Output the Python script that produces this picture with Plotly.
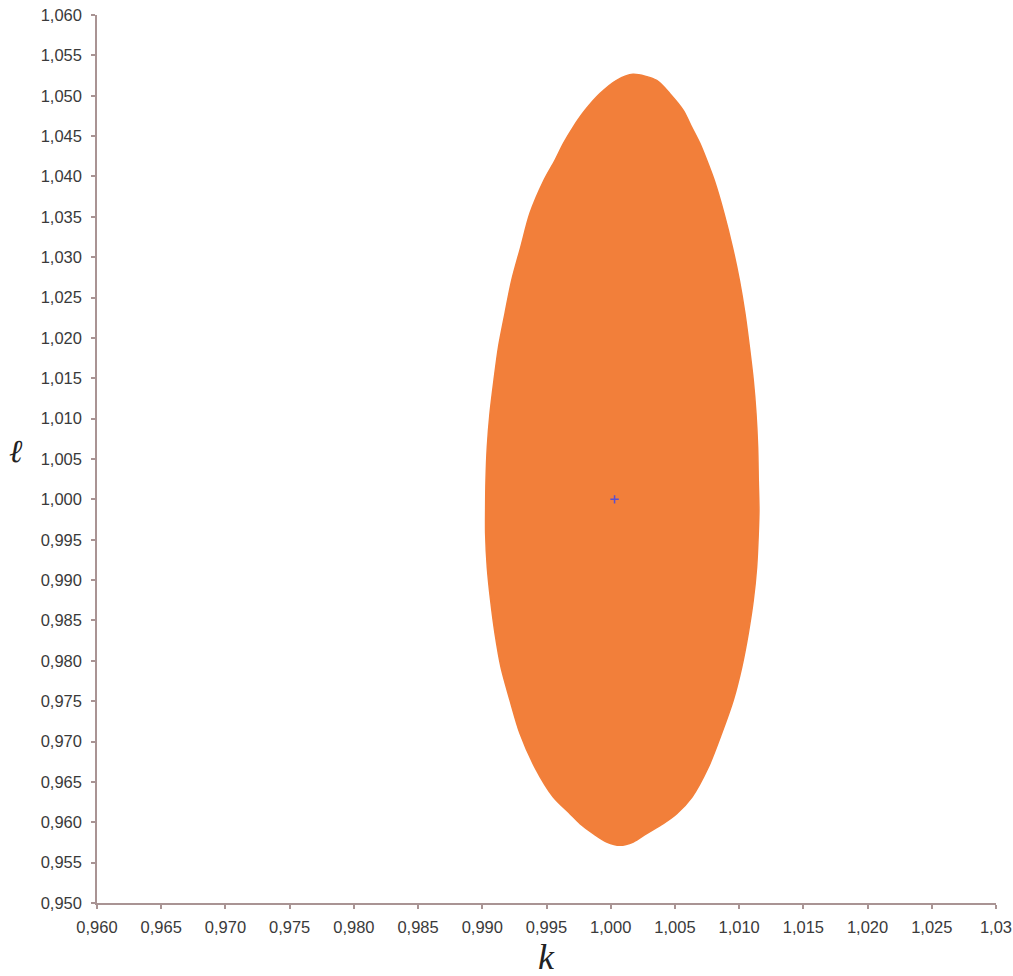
import plotly.graph_objects as go

# Outline of the feasible (k, l) region, traced clockwise from the top
region_k = [
    1.00173, 1.00358, 1.00461, 1.00565, 1.00630, 1.00695, 1.00748, 1.00806,
    1.00882, 1.00948, 1.01002, 1.01045, 1.01080, 1.01110, 1.01131, 1.01144,
    1.01149, 1.01154, 1.01149, 1.01136, 1.01110, 1.01071, 1.01020, 1.00954,
    1.00864, 1.00760, 1.00633, 1.00514, 1.00409, 1.00280, 1.00176, 1.00072,
    0.99969, 0.99864, 0.99761, 0.99683, 0.99553, 0.99410, 0.99293, 0.99216,
    0.99146, 0.99099, 0.99065, 0.99039, 0.99026, 0.99026, 0.99029, 0.99039,
    0.99060, 0.99091, 0.99126, 0.99177, 0.99229, 0.99299, 0.99371, 0.99480,
    0.99566, 0.99631, 0.99708, 0.99800, 0.99916, 1.00046, 1.00173,
]
region_l = [
    1.05265, 1.05191, 1.05026, 1.04819, 1.04612, 1.04407, 1.04200, 1.03952,
    1.03543, 1.03122, 1.02713, 1.02305, 1.01883, 1.01475, 1.01066, 1.00645,
    1.00236, 0.99864, 0.99580, 0.99158, 0.98750, 0.98341, 0.97920, 0.97511,
    0.97102, 0.96681, 0.96313, 0.96107, 0.95984, 0.95860, 0.95756, 0.95715,
    0.95756, 0.95860, 0.95984, 0.96107, 0.96313, 0.96681, 0.97102, 0.97511,
    0.97920, 0.98341, 0.98750, 0.99158, 0.99580, 0.99864, 1.00236, 1.00645,
    1.01066, 1.01475, 1.01883, 1.02305, 1.02713, 1.03122, 1.03543, 1.03952,
    1.04200, 1.04407, 1.04612, 1.04819, 1.05026, 1.05191, 1.05265,
]

# Reference point
point_k = [1.0003]
point_l = [1.0000]

# Axis ticks
x_tickvals = [0.960, 0.965, 0.970, 0.975, 0.980, 0.985, 0.990, 0.995,
              1.000, 1.005, 1.010, 1.015, 1.020, 1.025, 1.030]
x_ticktext = ["0,960", "0,965", "0,970", "0,975", "0,980", "0,985", "0,990",
              "0,995", "1,000", "1,005", "1,010", "1,015", "1,020", "1,025",
              "1,03"]
y_tickvals = [0.950, 0.955, 0.960, 0.965, 0.970, 0.975, 0.980, 0.985, 0.990,
              0.995, 1.000, 1.005, 1.010, 1.015, 1.020, 1.025, 1.030, 1.035,
              1.040, 1.045, 1.050, 1.055, 1.060]
y_ticktext = ["0,950", "0,955", "0,960", "0,965", "0,970", "0,975", "0,980",
              "0,985", "0,990", "0,995", "1,000", "1,005", "1,010", "1,015",
              "1,020", "1,025", "1,030", "1,035", "1,040", "1,045", "1,050",
              "1,055", "1,060"]

ORANGE = "#F27F3A"
AXIS = "#a99494"
TEXT = "#3a3a3a"
SERIF = "Liberation Serif, DejaVu Serif, serif"

fig = go.Figure()
fig.add_trace(go.Scatter(
    x=region_k, y=region_l, mode="lines", fill="toself",
    fillcolor=ORANGE, line=dict(color=ORANGE, width=1.5, shape="spline",
                                smoothing=0.8),
    hoverinfo="skip", showlegend=False,
))
fig.add_trace(go.Scatter(
    x=point_k, y=point_l, mode="markers",
    marker=dict(symbol="cross-thin", size=6, color="#5a4fd0",
                line=dict(color="#5a4fd0", width=1.5)),
    showlegend=False,
))

axis_common = dict(
    showgrid=False, zeroline=False, showline=True, linecolor=AXIS,
    linewidth=1.5, ticks="outside", ticklen=4, tickcolor=AXIS, tickwidth=1.5,
    automargin=False,
    tickfont=dict(family="Liberation Sans, Arial, sans-serif", size=16.5,
                  color=TEXT),
)

fig.update_xaxes(range=[0.960, 1.030], tickvals=x_tickvals,
                 ticktext=x_ticktext, ticklabelstandoff=4, **axis_common)
fig.update_yaxes(range=[0.950, 1.060], tickvals=y_tickvals,
                 ticktext=y_ticktext, ticklabelstandoff=6, **axis_common)

fig.add_annotation(text="<i>k</i>", xref="paper", yref="paper",
                   x=0.5, y=0, xanchor="center", yanchor="middle",
                   yshift=-54, showarrow=False,
                   font=dict(family=SERIF, size=36, color="#222222"))
fig.add_annotation(text="<i>ℓ</i>", xref="paper", yref="paper",
                   x=0, y=0.509, xanchor="center", yanchor="middle",
                   xshift=-81, showarrow=False,
                   font=dict(family=SERIF, size=32, color="#222222"))

fig.update_layout(
    width=1013, height=976,
    margin=dict(l=97, r=17, t=15, b=73, autoexpand=False),
    paper_bgcolor="white", plot_bgcolor="white",
    showlegend=False,
)

fig.write_html("out.html")
